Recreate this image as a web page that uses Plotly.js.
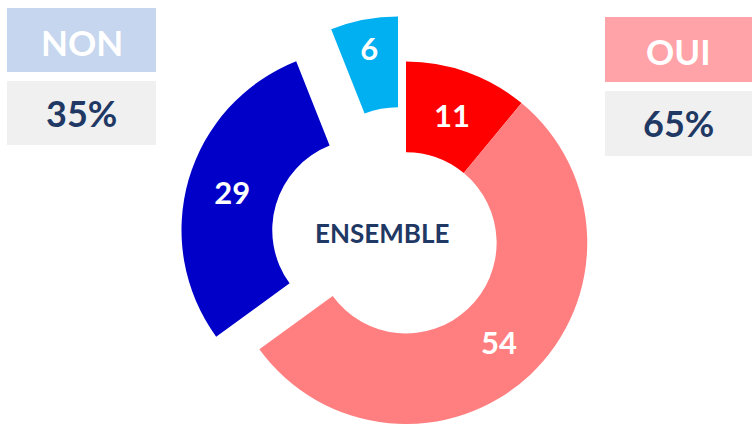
<!DOCTYPE html>
<html>
<head>
<meta charset="utf-8">
<script src="https://cdn.plot.ly/plotly-3.0.1.min.js"></script>
<style>html,body{margin:0;padding:0;background:#fff;}#chart{width:752px;height:424px;}</style>
</head>
<body>
<div id="chart"></div>
<script>
// Data
const labels = ["Oui, tout à fait", "Oui, plutôt", "Non, plutôt pas", "Non, pas du tout"];
const values = [11, 54, 29, 6];
const colors = ["#FF0000", "#FF7F80", "#0000C8", "#00B0F0"];
const centerLabel = "ENSEMBLE";
const groupNames = ["NON", "OUI"];
const groupTotals = [35, 65];

const W = 752, H = 424, R = 181.5;
function domainFor(cx, cy) {
  const clamp = v => Math.max(0, Math.min(1, v));
  return {
    x: [clamp((cx - R) / W), clamp((cx + R) / W)],
    y: [clamp((H - cy - R) / H), clamp((H - cy + R) / H)]
  };
}

// groups of slices: which slices each trace shows, and where its center sits
const groups = [
  {show: [0, 1], c: [406, 243]},
  {show: [2], c: [363, 230]},
  {show: [3], c: [398, 198]}
];

const traces = groups.map(g => ({
  type: "pie",
  labels: labels,
  values: values,
  sort: false,
  direction: "clockwise",
  rotation: 0,
  hole: 0.5,
  domain: domainFor(g.c[0], g.c[1]),
  marker: {
    colors: colors.map((c, i) => g.show.includes(i) ? c : "rgba(0,0,0,0)"),
    line: {width: 0}
  },
  text: values.map((v, i) => g.show.includes(i) ? String(v) : ""),
  textinfo: "text",
  textposition: "inside",
  insidetextorientation: "horizontal",
  textfont: {family: "Lato, 'Open Sans', sans-serif", size: 31, color: "#FFFFFF", weight: "bold"},
  hoverinfo: "skip",
  showlegend: false
}));

const navy = "#1F3864";
const FONT = "Lato, 'Open Sans', sans-serif";
function ann(text, x, y, size, color) {
  return {text: text, xref: "paper", yref: "paper", x: x / W, y: 1 - y / H,
    xanchor: "center", yanchor: "middle", showarrow: false,
    font: {family: FONT, size: size, color: color, weight: "bold"}};
}
const layout = {
  width: W, height: H,
  margin: {l: 0, r: 0, t: 0, b: 0},
  paper_bgcolor: "#FFFFFF",
  plot_bgcolor: "#FFFFFF",
  showlegend: false,
  shapes: [
    {type: "rect", xref: "paper", yref: "paper", x0: 7/W, x1: 156/W, y0: 1 - 72/H, y1: 1 - 8/H, fillcolor: "#C5D6EE", line: {width: 0}},
    {type: "rect", xref: "paper", yref: "paper", x0: 7/W, x1: 156/W, y0: 1 - 145/H, y1: 1 - 81/H, fillcolor: "#F0F0F0", line: {width: 0}},
    {type: "rect", xref: "paper", yref: "paper", x0: 605/W, x1: 1, y0: 1 - 82/H, y1: 1 - 17/H, fillcolor: "#FFA3A8", line: {width: 0}},
    {type: "rect", xref: "paper", yref: "paper", x0: 605/W, x1: 1, y0: 1 - 156/H, y1: 1 - 91/H, fillcolor: "#F0F0F0", line: {width: 0}}
  ],
  annotations: [
    ann(centerLabel, 382, 233, 26, navy),
    ann(groupNames[0], 81.5, 42, 35, "#FFFFFF"),
    ann(groupTotals[0] + "%", 81.5, 113, 36, navy),
    ann(groupNames[1], 678.5, 51, 35, "#FFFFFF"),
    ann(groupTotals[1] + "%", 678.5, 123, 36, navy)
  ]
};

Plotly.newPlot("chart", traces, layout, {staticPlot: true, displayModeBar: false});
</script>
</body>
</html>
